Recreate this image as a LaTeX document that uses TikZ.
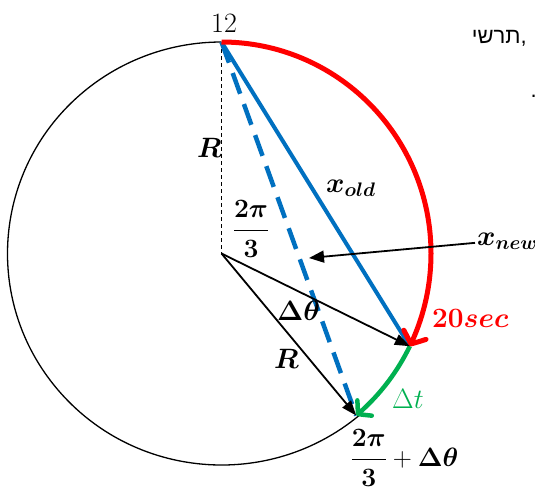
\RequirePackage{fix-cm}
\documentclass[tikz,border=0pt]{standalone}
\usepackage{amsmath,bm}
\usepackage{fontspec}
\newfontfamily\hebfont[Script=Hebrew]{Liberation Sans}
\TeXXeTstate=1
\usetikzlibrary{arrows.meta,bending}
\definecolor{ored}{HTML}{FF0000}
\definecolor{ogreen}{HTML}{00B050}
\definecolor{oblue}{HTML}{0070C0}
\begin{document}
\begin{tikzpicture}[x=1pt,y=-1pt,
  lbl/.style={inner sep=0pt, font=\fontsize{26.5}{30}\selectfont},
  big/.style={inner sep=0pt, font=\fontsize{28}{32}\selectfont},
  heb/.style={inner sep=0pt, font=\hebfont\fontsize{22}{26}\selectfont},
  radius/.style={line width=1.8pt, -{Triangle[length=15pt,width=11pt]}},
  ring/.style={line width=1.3pt},
  redarc/.style={ored, line width=5pt, -{Straight Barb[length=10pt,width=24pt,round,bend]}},
  greenarc/.style={ogreen, line width=4.5pt, -{Straight Barb[length=9pt,width=21pt,round,bend]}},
  chord/.style={oblue, line width=4pt},
  dchord/.style={oblue, line width=4.5pt, dash pattern=on 22pt off 11pt},
  guide/.style={line width=1.3pt, dash pattern=on 4pt off 3pt}]
\useasboundingbox (0,0) rectangle (535,488);
\coordinate (C) at (221.5,253.5);
\coordinate (T) at (221.5,42);
\coordinate (A) at (409.8,346.2);
\coordinate (B) at (356.2,415.5);
\coordinate (Xtip) at (309,258);
% black circle (left part)
\draw[ring] ([shift={(50:214 and 211.5)}]C) arc[start angle=50, end angle=270, x radius=214, y radius=211.5];
% vertical dashed radius
\draw[guide] (T) -- (C);
% chords
\draw[dchord] (T) -- (B);
\draw[chord] (T) -- (A);
% arcs
\draw[redarc] (T) arc[start angle=-90, end angle=26, x radius=209.5, y radius=211.5];
\draw[greenarc] (A) arc[start angle=26, end angle=50, x radius=209.5, y radius=211.5];
% radii
\draw[radius] (C) -- (A);
\draw[radius] (C) -- (B);
% labels
\node[big, anchor=base west] (n12) at (211,32) {12};
\node[big, anchor=base west] (R1) at (197,157) {$\bm{R}$};
\node[lbl] (f1) at (251,229) {$\bm{\dfrac{2\pi}{3}}$};
\node[big, anchor=base west] (xold) at (326,192) {$\bm{x_{old}}$};
\node[big, anchor=base west, inner xsep=2pt] (xnew) at (475,245) {$\bm{x_{new}}$};
\draw[radius, -{Triangle[length=15pt,width=12pt]}] (xnew.mid west) -- (Xtip);
\node[big, anchor=base west] (dth) at (277,320) {$\bm{\Delta\theta}$};
\node[big, anchor=base west] (R2) at (274,368) {$\bm{R}$};
\node[big, anchor=base west, text=ored] (sec) at (432,327) {$\bm{20sec}$};
\node[big, anchor=base west, text=ogreen] (dt) at (392,408) {$\Delta t$};
\node[lbl] (f2) at (404.5,458) {$\bm{\dfrac{2\pi}{3}}+\bm{\Delta\theta}$};
% cut-off text of the page
\node[heb, anchor=base east] (h1) at (527,43) {\beginR ,תרשי\endR};
\node[heb, anchor=base west] (h2) at (530.5,97) {.};
\end{tikzpicture}
\end{document}
